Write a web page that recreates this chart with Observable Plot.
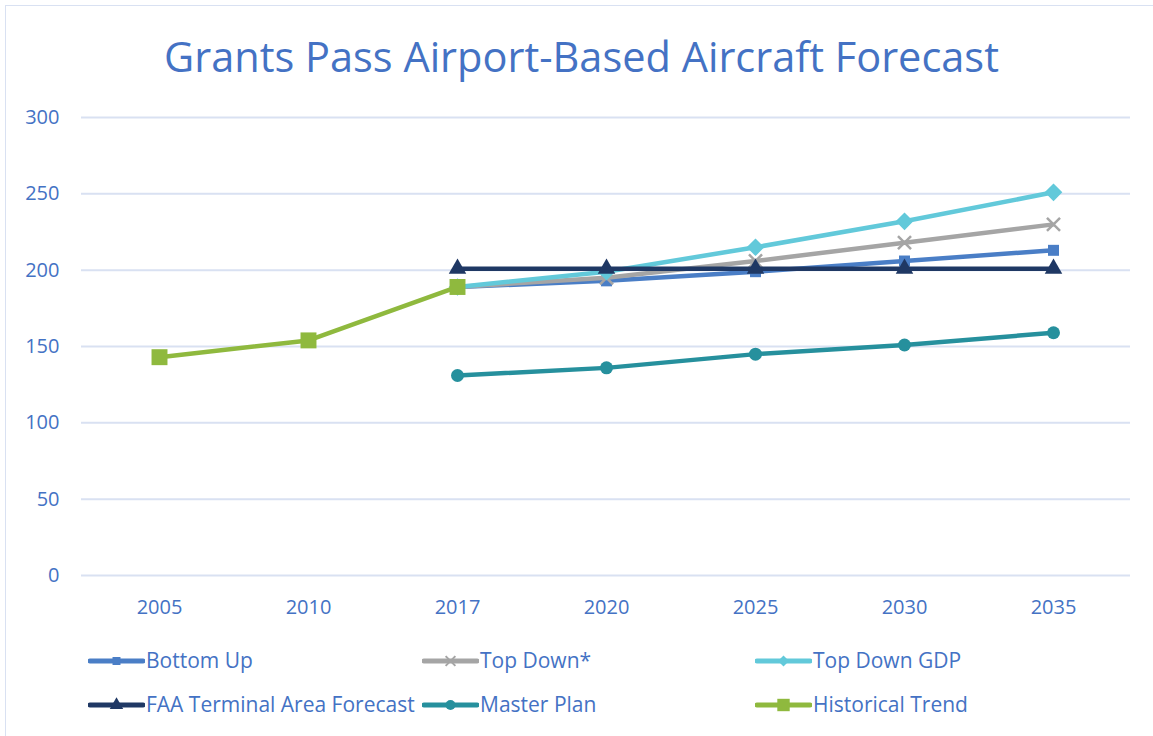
<!DOCTYPE html>
<html><head><meta charset="utf-8">
<script src="https://cdn.jsdelivr.net/npm/d3@7"></script>
<script src="https://cdn.jsdelivr.net/npm/@observablehq/plot@0.6"></script>
<style>
body{margin:0;background:#fff;font-family:"Open Sans",sans-serif;}
#wrap{position:relative;width:1153px;height:736px;overflow:hidden;background:#fff;}
#frame{position:absolute;left:5px;top:5px;width:1170px;height:760px;border:1.5px solid #d9e1f2;box-sizing:border-box;}
#title{position:absolute;left:0;width:1163px;top:36px;line-height:1;text-align:center;color:#4472c4;font-size:41.5px;white-space:nowrap;}
#chart{position:absolute;left:0;top:0;}
.leg{position:absolute;display:flex;align-items:center;color:#4472c4;font-size:21px;line-height:1;white-space:nowrap;}
.leg svg{margin-right:1px;}
</style></head>
<body>
<div id="wrap">
  <div id="frame"></div>
  <div id="chart"></div>
  <div id="title">Grants Pass Airport-Based Aircraft Forecast</div>
  <div id="legend"></div>
</div>
<script>
const years = ["2005","2010","2017","2020","2025","2030","2035"];
const seriesNames = ["Bottom Up","Top Down*","Top Down GDP","FAA Terminal Area Forecast","Master Plan","Historical Trend"];
const bottomUp   = [null,null,189,193,199,206,213];
const topDown    = [null,null,189,195,206,218,230];
const topDownGDP = [null,null,189,199,215,232,251];
const faa        = [null,null,201,201,201,201,201];
const masterPlan = [null,null,131,136,145,151,159];
const historical = [143,154,189,null,null,null,null];
const yTicks = [0,50,100,150,200,250,300];

const seriesValues = [bottomUp, topDown, topDownGDP, faa, masterPlan, historical];
const colors = ["#4a7ec6","#a5a5a5","#62c9da","#1f3864","#26909d","#8fb93e"];
const symbols = ["square","times","diamond2","triangle","circle","square"];
const radii = [6.2,6,7,6.5,6.5,9];

const marks = [];
marks.push(Plot.gridY(yTicks, {stroke:"#d9e1f2", strokeOpacity:1, strokeWidth:2}));
seriesNames.forEach((name, i) => {
  const rows = years.map((y, j) => ({year:y, value:seriesValues[i][j]})).filter(d => d.value != null);
  marks.push(Plot.line(rows, {x:"year", y:"value", stroke:colors[i], strokeWidth:4.5, strokeLinejoin:"round", strokeLinecap:"butt"}));
  if (symbols[i] === "times") {
    marks.push(Plot.dot(rows, {x:"year", y:"value", symbol:"times", r:radii[i], stroke:colors[i], strokeWidth:2.5, fill:"none"}));
  } else {
    marks.push(Plot.dot(rows, {x:"year", y:"value", symbol:symbols[i], r:radii[i], fill:colors[i], stroke:symbols[i]==="diamond2"?colors[i]:"none", strokeWidth:symbols[i]==="diamond2"?1.5:0}));
  }
});
marks.push(Plot.axisY(yTicks, {tickSize:0, tickPadding:22, fontSize:20, fill:"#4472c4", label:null}));
marks.push(Plot.axisX(years, {tickSize:0, tickPadding:24, fontSize:20, fill:"#4472c4", label:null}));

const chart = Plot.plot({
  width:1153, height:640,
  marginLeft:81, marginRight:23, marginTop:117, marginBottom:65,
  style:{fontFamily:"'Open Sans', sans-serif", background:"transparent", overflow:"visible"},
  x:{type:"point", domain:years, padding:0.5},
  y:{domain:[0,300]},
  marks
});
document.getElementById("chart").appendChild(chart);

// legend
const legPos = [[88,660],[422,660],[755,660],[88,704],[422,704],[755,704]];
const legRadius = [4.5,4.5,5,5,5,7];
const legend = document.getElementById("legend");
seriesNames.forEach((name,i)=>{
  const div = document.createElement("div");
  div.className = "leg";
  div.style.left = legPos[i][0]+"px";
  div.style.top = (legPos[i][1]-10)+"px";
  const s = d3.create("svg").attr("width",57).attr("height",20);
  s.append("line").attr("x1",2).attr("x2",55).attr("y1",10).attr("y2",10)
    .attr("stroke",colors[i]).attr("stroke-width",5).attr("stroke-linecap","round");
  const symMap = {square:d3.symbolSquare, times:d3.symbolTimes, diamond2:d3.symbolDiamond2, triangle:d3.symbolTriangle, circle:d3.symbolCircle};
  const p = s.append("path").attr("transform","translate(28.5,10)")
    .attr("d", d3.symbol(symMap[symbols[i]], Math.PI*legRadius[i]*legRadius[i])());
  if (symbols[i]==="times") p.attr("fill","none").attr("stroke",colors[i]).attr("stroke-width",2);
  else p.attr("fill",colors[i]);
  div.appendChild(s.node());
  const t = document.createElement("span");
  t.textContent = name;
  div.appendChild(t);
  legend.appendChild(div);
});
</script>
</body></html>
